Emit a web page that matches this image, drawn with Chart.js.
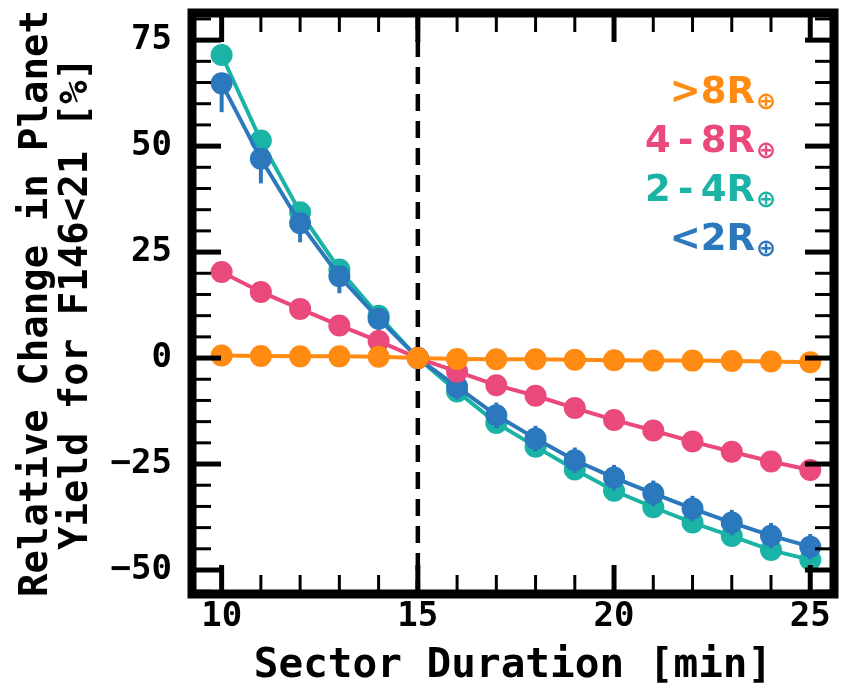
<!DOCTYPE html>
<html>
<head>
<meta charset="utf-8">
<script src="https://cdn.jsdelivr.net/npm/chart.js@4.4.1/dist/chart.umd.min.js"></script>
<style>
  html, body { margin: 0; padding: 0; background: #fff; }
  canvas { display: block; }
</style>
</head>
<body>
<canvas id="grafico" width="846" height="693"></canvas>
<script>
// Sector duration (min) and relative yield change (%) per planet size bin
const duracao = [10, 11, 12, 13, 14, 15, 16, 17, 18, 19, 20, 21, 22, 23, 24, 25];
const maior8 = [0.6, 0.5, 0.4, 0.4, 0.3, 0, -0.2, -0.3, -0.3, -0.4, -0.5, -0.6, -0.6, -0.7, -0.8, -1.0];
const de4a8 = [20.3, 15.6, 11.6, 7.7, 4.0, 0, -3.2, -6.4, -8.9, -11.8, -14.6, -17.1, -19.7, -22.1, -24.4, -26.4];
const de2a4 = [71.5, 51.3, 34.4, 20.9, 10.0, 0, -7.9, -15.3, -20.9, -26.3, -31.3, -35.2, -38.8, -42.0, -45.3, -47.6];
const menor2 = [64.8, 47.0, 31.8, 19.3, 9.3, 0, -6.8, -13.5, -19.0, -24.1, -28.2, -31.9, -35.5, -38.8, -41.9, -44.5];
// asymmetric errors on the <2 Earth radii bin
const erroAbaixo = [6.8, 5.8, 4.5, 4.0, 3.0, 0, 3.0, 3.0, 3.0, 3.0, 3.0, 3.0, 3.0, 3.0, 3.0, 3.0];
const erroAcima = [2.0, 2.0, 2.0, 2.0, 2.0, 0, 3.0, 3.0, 3.0, 3.0, 3.0, 3.0, 3.0, 3.0, 3.0, 3.0];

const ticksX = [10, 15, 20, 25];
const ticksY = [-50, -25, 0, 25, 50, 75];
const legendas = [">8R", "4-8R", "2-4R", "<2R"];

const cores = {
  laranja: "#ff8b12",
  rosa: "#ea4a7b",
  verde: "#1bb3a6",
  azul: "#2b78bd"
};

const FONTE = "'DejaVu Sans Mono', monospace";

function pontos(ys) {
  return duracao.map((x, i) => ({ x, y: ys[i] }));
}

function serie(label, ys, cor, ordem) {
  return {
    label,
    data: pontos(ys),
    borderColor: cor,
    backgroundColor: cor,
    borderWidth: 4,
    pointRadius: 10,
    pointBorderWidth: 2,
    pointBackgroundColor: cor,
    pointBorderColor: cor,
    tension: 0,
    order: ordem
  };
}

// dashed reference line, error bars, inward ticks, thick frame and coloured legend
const moldura = {
  id: "moldura",
  beforeDatasetsDraw(chart) {
    const { ctx, chartArea: a, scales: { x } } = chart;
    const px = x.getPixelForValue(15);
    ctx.save();
    ctx.strokeStyle = "#000";
    ctx.lineWidth = 4.5;
    ctx.setLineDash([17, 10]);
    ctx.beginPath();
    ctx.moveTo(px, a.top);
    ctx.lineTo(px, a.bottom);
    ctx.stroke();
    ctx.restore();
  },
  beforeDatasetDraw(chart, args) {
    const ds = chart.data.datasets[args.index];
    if (ds.label !== "<2R") return;
    const { ctx, scales: { x, y } } = chart;
    ctx.save();
    ctx.strokeStyle = cores.azul;
    ctx.lineWidth = 4;
    menor2.forEach((v, i) => {
      const px = x.getPixelForValue(duracao[i]);
      ctx.beginPath();
      ctx.moveTo(px, y.getPixelForValue(v + erroAcima[i]));
      ctx.lineTo(px, y.getPixelForValue(v - erroAbaixo[i]));
      ctx.stroke();
    });
    ctx.restore();
  },
  afterDraw(chart) {
    const { ctx, chartArea: a, scales: { x, y } } = chart;
    ctx.save();
    ctx.strokeStyle = "#000";
    ctx.lineCap = "butt";

    const tick = (len, w, px, lado) => {
      ctx.lineWidth = w;
      ctx.beginPath();
      if (lado === "b") { ctx.moveTo(px, a.bottom); ctx.lineTo(px, a.bottom - len); }
      if (lado === "t") { ctx.moveTo(px, a.top); ctx.lineTo(px, a.top + len); }
      if (lado === "l") { ctx.moveTo(a.left, px); ctx.lineTo(a.left + len, px); }
      if (lado === "r") { ctx.moveTo(a.right, px); ctx.lineTo(a.right - len, px); }
      ctx.stroke();
    };

    for (let v = 10; v <= 25; v++) {
      const px = x.getPixelForValue(v);
      const maior = v % 5 === 0;
      tick(maior ? 29 : 19, maior ? 5 : 3, px, "b");
      tick(maior ? 29 : 19, maior ? 5 : 3, px, "t");
    }
    for (let v = -55; v <= 80; v += 5) {
      const py = y.getPixelForValue(v);
      const maior = v % 25 === 0;
      tick(maior ? 29 : 19, maior ? 5 : 3, py, "l");
      tick(maior ? 29 : 19, maior ? 5 : 3, py, "r");
    }

    ctx.lineWidth = 9;
    ctx.lineJoin = "miter";
    ctx.strokeRect(a.left, a.top, a.right - a.left, a.bottom - a.top);

    // legend text, right aligned, one colour per bin
    const linhas = [
      { t: legendas[0], c: cores.laranja },
      { t: legendas[1], c: cores.rosa },
      { t: legendas[2], c: cores.verde },
      { t: legendas[3], c: cores.azul }
    ];
    const xFim = 755;
    linhas.forEach((l, i) => {
      const base = 103 + i * 49;
      const txt = l.t.replace("-", "\u2009-\u2009");
      ctx.fillStyle = l.c;
      ctx.font = "bold 37px 'DejaVu Sans', sans-serif";
      ctx.textAlign = "right";
      ctx.textBaseline = "alphabetic";
      ctx.fillText(txt, xFim, base);
      ctx.font = "bold 24px 'DejaVu Sans', sans-serif";
      ctx.textAlign = "left";
      ctx.textBaseline = "middle";
      ctx.fillText("\u2295", xFim + 1, base);
    });
    ctx.restore();
  }
};

new Chart(document.getElementById("grafico"), {
  type: "line",
  data: {
    datasets: [
      serie(">8R", maior8, cores.laranja, 0),
      serie("4-8R", de4a8, cores.rosa, 1),
      serie("2-4R", de2a4, cores.verde, 3),
      serie("<2R", menor2, cores.azul, 2)
    ]
  },
  options: {
    responsive: false,
    devicePixelRatio: 1,
    animation: false,
    layout: { padding: { top: 13, right: 4, left: 0, bottom: 0 } },
    plugins: { legend: { display: false }, tooltip: { enabled: false } },
    scales: {
      x: {
        type: "linear",
        min: 9.245,
        max: 25.605,
        afterBuildTicks: s => { s.ticks = ticksX.map(v => ({ value: v })); },
        afterFit: s => { s.height = 99; s.paddingLeft = 0; s.paddingRight = 0; },
        grid: { display: false, drawTicks: false },
        border: { display: false },
        ticks: {
          color: "#000",
          padding: 3,
          maxRotation: 0,
          font: { family: FONTE, size: 34, weight: "bold" }
        },
        title: {
          display: true,
          text: "Sector Duration [min]",
          color: "#000",
          padding: { top: 0, bottom: 6 },
          font: { family: FONTE, size: 41, weight: "bold", lineHeight: 1 }
        }
      },
      y: {
        min: -55.66,
        max: 81.4,
        afterBuildTicks: s => { s.ticks = ticksY.map(v => ({ value: v })); },
        afterFit: s => { s.width = 192; s.paddingTop = 0; s.paddingBottom = 0; },
        grid: { display: false, drawTicks: false },
        border: { display: false },
        ticks: {
          color: "#000",
          padding: 20,
          font: { family: FONTE, size: 34, weight: "bold" },
          callback: v => String(v).replace("-", "\u2212")
        },
        title: {
          display: true,
          text: ["Relative Change in Planet", "Yield for F146<21 [%]"],
          color: "#000",
          padding: { top: 17, bottom: 0 },
          font: { family: FONTE, size: 39, weight: "bold", lineHeight: 1.03 }
        }
      }
    }
  },
  plugins: [moldura]
});
</script>
</body>
</html>
